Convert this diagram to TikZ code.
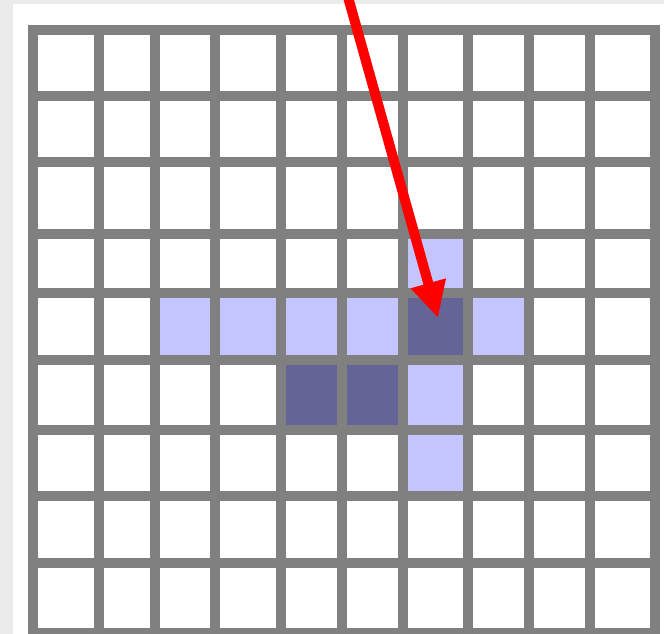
\documentclass[tikz,border=0pt]{standalone}
\usetikzlibrary{arrows.meta}
\definecolor{gridgray}{HTML}{808080}
\definecolor{lightcell}{HTML}{C4C4FF}
\definecolor{darkcell}{HTML}{646496}
\definecolor{bggray}{HTML}{EBEBEB}
\begin{document}
\begin{tikzpicture}[x=1pt,y=-1pt,
  gridline/.style={gridgray,line width=10pt},
  lightfill/.style={fill=lightcell},
  darkfill/.style={fill=darkcell},
  pointer/.style={draw=red,line width=10pt,-{Triangle[length=36pt,width=34pt]}}]
\useasboundingbox (0,0) rectangle (664,634);
\clip (0,0) rectangle (664,634);
\fill[bggray] (0,0) rectangle (664,634);
\fill[white] (13,4) rectangle (664,634);
% coloured cells
\path[lightfill] (402.5,233.5) rectangle (468,293);
\path[lightfill] (154.5,293) rectangle (402.5,360);
\path[darkfill] (402.5,293) rectangle (468,360);
\path[lightfill] (468,293) rectangle (528.5,360);
\path[darkfill] (281,360) rectangle (402.5,430);
\path[lightfill] (402.5,360) rectangle (468,430);
\path[lightfill] (402.5,430) rectangle (468,496);
% grid
\foreach \x in {33,99,154.5,215,281,341.5,402.5,468,528.5,589.5,655}
  \draw[gridline] (\x,25.5) -- (\x,640);
\foreach \y in {30.5,96,162,233.5,293,360,430,496,562.5,633}
  \draw[gridline] (28,\y) -- (660,\y);
% arrow
\coordinate (start) at (348,-3);
\coordinate (tip) at (438,318);
\draw[pointer] (start) -- (tip);
\end{tikzpicture}
\end{document}
